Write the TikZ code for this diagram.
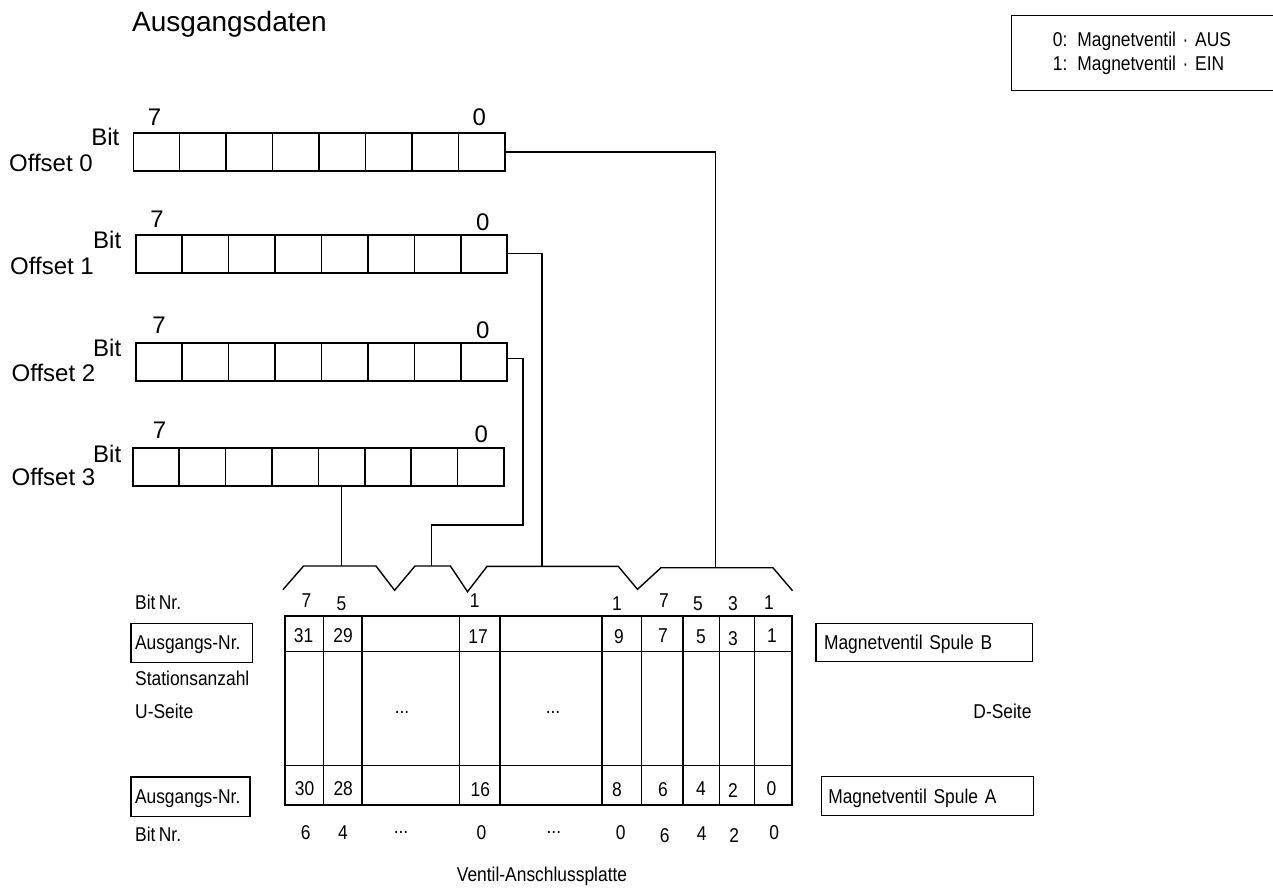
\documentclass[tikz,border=0pt]{standalone}
\usepackage{fontspec}
\setmainfont{Liberation Sans}
\newfontfamily\condf[FakeStretch=0.87,WordSpace=0.7]{Liberation Sans}
\begin{document}
\begin{tikzpicture}[x=1pt,y=-1pt,
  cell/.style={draw, line width=1.5pt, minimum height=38pt, inner sep=0pt, anchor=north west},
  lbl/.style={font=\fontsize{24}{28}\selectfont, inner sep=0pt},
  clbl/.style={font=\condf\fontsize{20}{24}\selectfont, inner sep=0pt},
  wire/.style={line width=1.4pt},
  frm/.style={draw, line width=1.4pt, font=\condf\fontsize{20}{24}\selectfont, align=left, text height=14.3pt, text depth=0pt, inner ysep=0pt}]
\useasboundingbox (0,0) rectangle (1273,889);
\fill[white] (0,0) rectangle (1273,889);
\clip (0,0) rectangle (1273,889);

% title
\node[font=\fontsize{28}{32}\selectfont, inner sep=0pt, anchor=base west] (title) at (132,31) {Ausgangsdaten};

% legend
\node[draw, line width=1.4pt, anchor=north west, minimum width=290pt, minimum height=75pt,
      inner xsep=41.3pt, text width=207pt, align=left, font=\condf\fontsize{20}{23.3}\selectfont] (legend) at (1010.7,15)
  {0: Magnetventil · AUS\\1: Magnetventil · EIN};

% registers
\foreach \rg/\lx/\ty/\cw/\sx/\sy/\zx/\zy/\bx/\by/\ox/\oy in {
  0/132.5/132.3/46.44/154.6/125.7/479.3/125.7/119.6/145/8.9/171.7,
  1/135/234/46.43/157/227.3/482.9/230.7/121.4/248.3/10/274.3,
  2/135/342/46.43/159/333.3/482.9/338.3/121.4/356.7/11.4/381.7,
  3/132.1/447.3/46.39/159.6/438.3/481.4/442.3/121.4/462.7/11.4/485}{
  \foreach \b in {0,...,7}{
    \node[cell, minimum width=\cw*1pt] (r\rg c\b) at ({\lx+(7-\b)*\cw},\ty) {};
  }
  \node[lbl, anchor=base] (s\rg) at (\sx,\sy) {7};
  \node[lbl, anchor=base] (z\rg) at (\zx,\zy) {0};
  \node[lbl, anchor=base east] (bit\rg) at (\bx,\by) {Bit};
  \node[lbl, anchor=base west] (off\rg) at (\ox,\oy) {Offset \rg};
}

% bracket
\coordinate (k1) at (282.9,589.7);
\coordinate (k2) at (303.6,566);
\coordinate (k3) at (376,566);
\coordinate (k4) at (394.6,590.3);
\coordinate (k5) at (415,566);
\coordinate (k6) at (450.4,566);
\coordinate (k7) at (467.5,591.7);
\coordinate (k8) at (487.1,566.3);
\coordinate (k9) at (618.2,566.3);
\coordinate (k10) at (637.5,589.3);
\coordinate (k11) at (661,567.7);
\coordinate (k12) at (772.9,567.7);
\coordinate (k13) at (792.5,590.7);
\draw[wire, line join=miter] (k1)--(k2)--(k3)--(k4)--(k5)--(k6)--(k7)--(k8)--(k9)--(k10)--(k11)--(k12)--(k13);

\coordinate (t0) at (715.7,567.7);
\coordinate (t1) at (541.8,566.3);
\coordinate (t2) at (431.4,566);
\coordinate (m2) at (523,525);

\draw[wire] (r0c0.east) -| (t0);
\draw[wire] (r1c0.east) -| (t1);
\draw[wire] ([yshift=3pt]r2c0.east) -| (m2) -| (t2);
\draw[wire] (r3c3.south) -- (r3c3.south |- k2);

% valve plate table
\node[draw, line width=1.5pt, anchor=north west, minimum width=507.1pt, minimum height=189pt, inner sep=0pt] (plate) at (284.3,615) {};
\draw[line width=1.5pt] (284.3,651.5) -- (791.4,651.5) (284.3,765.5) -- (791.4,765.5);
\foreach \x in {323.6,361.8,459.3,500,602.1,641.4,682.9,719.3,754.6}{
  \draw[line width=1.5pt] (\x,615) -- (\x,804);
}

% upper bit numbers
\foreach \t/\x/\y [count=\i] in {7/306.4/601,5/341.4/603.5,1/474.6/601,1/617/604,7/664/601,5/698/603.5,3/733/603.5,1/769/602.5}{
  \node[clbl] (ub\i) at (\x,\y) {\t};
}
% output numbers coil B
\foreach \t/\x/\y [count=\i] in {31/303.6/636,29/343/636,17/478/637,9/619/637,7/663/636,5/701/637,3/733/639,1/772/636}{
  \node[clbl] (ob\i) at (\x,\y) {\t};
}
% output numbers coil A
\foreach \t/\x/\y [count=\i] in {30/304.6/789,28/343.2/789,16/480.4/790,8/617/790,6/662.9/790,4/701/789,2/733/791,0/771.4/789}{
  \node[clbl] (oa\i) at (\x,\y) {\t};
}
% lower bit numbers
\foreach \t/\x/\y [count=\i] in {6/305.7/832.7,4/342.9/832.7,0/481.4/832.7,0/620.7/832.7,6/664.6/836,4/701.8/833.5,2/734.3/836,0/774.3/833}{
  \node[clbl] (lb\i) at (\x,\y) {\t};
}
\node[clbl] (d1) at (402,712) {...};
\node[clbl] (d2) at (553,712) {...};
\node[clbl] (d3) at (401,832) {...};
\node[clbl] (d4) at (553.9,832) {...};

% left labels
\node[clbl, anchor=west] (bn1) at (135,602.7) {Bit Nr.};
\node[frm, minimum width=121.3pt, minimum height=39pt, inner xsep=4pt, text width=113.3pt] (an1) at (191.7,642.8) {Ausgangs-Nr.};
\node[clbl, anchor=west] (sta) at (135,678) {Stationsanzahl};
\node[clbl, anchor=west] (us) at (135,711.7) {U-Seite};
\node[frm, minimum width=119pt, minimum height=39.5pt, inner xsep=4pt, text width=111pt] (an2) at (190.5,796.7) {Ausgangs-Nr.};
\node[clbl, anchor=west] (bn2) at (135,834) {Bit Nr.};

% right labels
\node[frm, minimum width=216.3pt, minimum height=38.4pt, inner xsep=8pt, text width=200.3pt] (spb) at (924.2,642.5) {Magnetventil Spule B};
\node[clbl, anchor=east] (ds) at (1031.7,711.7) {D-Seite};
\node[frm, minimum width=211.6pt, minimum height=38.6pt, inner xsep=6.6pt, text width=198.4pt] (spa) at (927.5,796) {Magnetventil Spule A};

\node[clbl] (vap) at (542,876.7) {Ventil-Anschlussplatte};
\end{tikzpicture}
\end{document}
